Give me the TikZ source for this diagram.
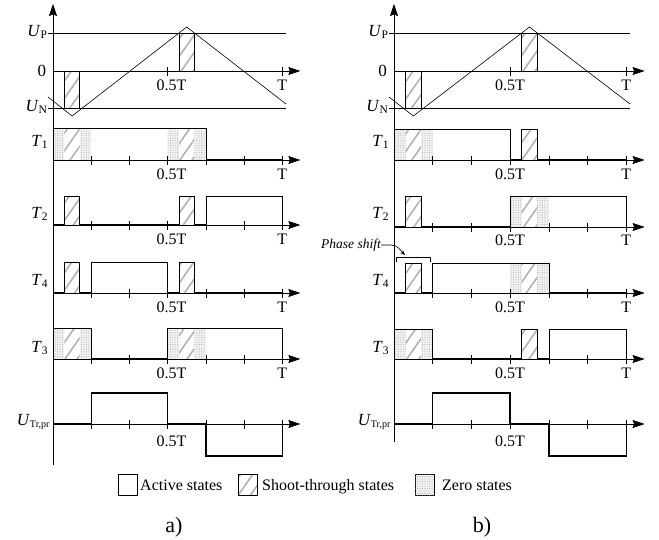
\documentclass[tikz,border=0pt]{standalone}
\usepackage{fontspec}
\setmainfont{Liberation Serif}
\usetikzlibrary{patterns.meta,arrows.meta}
\newcommand\lab[2]{\textit{#1}\raisebox{-0.12em}{\fontsize{11.5}{12}\selectfont #2}}
\tikzset{
  ax/.style={line width=0.6pt,-{Stealth[length=12pt,width=8pt,inset=1.5pt]}},
  thinl/.style={line width=0.6pt},
  sig/.style={line width=0.6pt},
  low/.style={line width=1.3pt},
  wave/.style={line width=1.4pt},
  stfill/.style={pattern={Lines[angle=55,distance=10pt,line width=1.6pt]},pattern color=gray!60},
  zfill/.style={fill=gray!10,postaction={pattern={Dots[radius=0.5pt,distance=2.4pt]},pattern color=gray!70}},
  lbl/.style={font=\fontsize{17}{18}\selectfont,inner sep=1pt,anchor=east},
  tlbl/.style={font=\fontsize{16}{18}\selectfont,inner sep=0pt,anchor=north},
  legtxt/.style={font=\fontsize{16}{18}\selectfont,inner sep=0pt,anchor=base west},
  legbox/.style={draw,line width=0.6pt,minimum width=19pt,minimum height=21pt,inner sep=0pt},
  captxt/.style={font=\fontsize{22}{24}\selectfont,inner sep=0pt,anchor=base}
}
\newcommand\STbox[4]{\fill[stfill] (#1,#3) rectangle (#2,#4);
  \draw[sig] (#1,#3)--(#1,#4)--(#2,#4)--(#2,#3);}
\newcommand\ZSZ[3]{\fill[zfill] (#1,#2) rectangle ({#1+0.6},#3);
  \fill[stfill] ({#1+0.6},#2) rectangle ({#1+1.4},#3);
  \fill[zfill] ({#1+1.4},#2) rectangle ({#1+2},#3);}
\newcommand\SigAxis[4]{\draw[ax] (0,#2) -- (12.95,#2);
  \foreach \k in {2,4,...,12} \draw[thinl] (\k,{#2-4.5}) -- (\k,{#2+4.5});
  \node[tlbl] (#1h) at (#4,{#2+#3}) {0.5T};
  \node[tlbl] (#1t) at (12,{#2+#3}) {T};}
\newcommand\Carrier[2]{%
  \STbox{0.6}{1.4}{108}{71}
  \fill[stfill] (6.6,33) rectangle (7.4,71);
  \draw[sig] (6.6,33)--(6.6,71) (7.4,33)--(7.4,71);
  \draw[thinl] (-0.26,33) -- (12.2,33);
  \draw[thinl] (-0.26,108) -- (12.2,108);
  \draw[ax] (0,71) -- (12.95,71);
  \draw[thinl] (6,66.5) -- (6,75.5) (12,66.5) -- (12,75.5);
  \node[tlbl] (#1ch) at (#2,80) {0.5T};
  \node[tlbl] (#1ct) at (12,80) {T};
  \draw[thinl] (-0.26,97) -- (1,116) -- (7,27) -- (12.2,104);
  \node[lbl] (#1up) at (-0.25,32) {\lab{U}{P}};
  \node[lbl] (#1zero) at (-0.3,71) {0};
  \node[lbl] (#1un) at (-0.25,107) {\lab{U}{N}};
  \node[lbl] (#1t1) at (-0.22,142) {\lab{T}{1}};
  \node[lbl] (#1t2) at (-0.22,214) {\lab{T}{2}};
  \node[lbl] (#1t4) at (-0.22,281) {\lab{T}{4}};
  \node[lbl] (#1t3) at (-0.22,348) {\lab{T}{3}};
  \node[lbl] (#1utr) at (-0.12,422) {\textit{U}\raisebox{-0.1em}{\fontsize{10}{12}\selectfont Tr,pr}};
  \draw[wave] (0,424) -- (2,424) -- (2,393) -- (6,393) -- (6,424) -- (8,424) -- (8,456) -- (12,456) -- (12,424);
}
\begin{document}
\begin{tikzpicture}[x=1pt,y=-1pt]
\useasboundingbox (0,0) rectangle (659,539);
% ================= panel a) =================
\begin{scope}[xshift=53pt,x=19.1pt]
  \ZSZ{0}{160}{128}\ZSZ{6}{160}{128}
  \STbox{0.6}{1.4}{225}{196}\STbox{6.6}{7.4}{225}{196}
  \STbox{0.6}{1.4}{293}{262}\STbox{6.6}{7.4}{293}{262}
  \ZSZ{0}{359}{328}\ZSZ{6}{359}{328}
  \Carrier{a}{6.2}
  \SigAxis{aT1}{160}{9}{6.2}
  \SigAxis{aT2}{225}{9}{6.2}
  \SigAxis{aT4}{293}{9}{6.2}
  \SigAxis{aT3}{359}{9}{6.2}
  \draw[ax] (0,424) -- (12.95,424);
  \foreach \k in {2,4,...,12} \draw[thinl] (\k,419.5) -- (\k,428.5);
  \node[tlbl] (aUh) at (6.2,436) {0.5T};
  \draw[ax] (0,465) -- (0,4);
  \draw[sig] (0,160)--(0,128)--(8,128)--(8,160);
  \draw[low] (8,160)--(12,160);
  \draw[sig] (8,225)--(8,196)--(12,196)--(12,225);
  \draw[low] (0,225)--(0.6,225) (1.4,225)--(6.6,225) (7.4,225)--(8,225);
  \draw[sig] (2,293)--(2,262)--(6,262)--(6,293);
  \draw[low] (0,293)--(0.6,293) (1.4,293)--(2,293) (6,293)--(6.6,293) (7.4,293)--(12,293);
  \draw[sig] (0,359)--(0,328)--(2,328)--(2,359);
  \draw[sig] (6,359)--(6,328)--(12,328)--(12,359);
  \draw[low] (2,359)--(6,359);
\end{scope}
% ================= panel b) =================
\begin{scope}[xshift=394pt,x=19.35pt]
  \ZSZ{0}{160}{129}
  \STbox{6.6}{7.4}{160}{129}
  \STbox{0.6}{1.4}{227}{196}
  \ZSZ{6}{227}{196}
  \STbox{0.6}{1.4}{293}{263}
  \ZSZ{6}{293}{263}
  \ZSZ{0}{359}{329}
  \STbox{6.6}{7.4}{359}{329}
  \Carrier{b}{6}
  \SigAxis{bT1}{160}{9}{6}
  \SigAxis{bT2}{227}{8}{6}
  \SigAxis{bT4}{293}{9}{6}
  \SigAxis{bT3}{359}{9}{6}
  \draw[ax] (0,424) -- (12.95,424);
  \foreach \k in {2,4,...,12} \draw[thinl] (\k,419.5) -- (\k,428.5);
  \node[tlbl] (bUh) at (6,436) {0.5T};
  \draw[ax] (0,442) -- (0,4);
  \draw[sig] (0,160)--(0,129)--(6,129)--(6,160);
  \draw[low] (6,160)--(6.6,160) (7.4,160)--(12,160);
  \draw[sig] (6,227)--(6,196)--(12,196)--(12,227);
  \draw[low] (0,227)--(0.6,227) (1.4,227)--(6,227);
  \draw[sig] (2,293)--(2,263)--(8,263)--(8,293);
  \draw[low] (0,293)--(0.6,293) (1.4,293)--(2,293) (8,293)--(12,293);
  \draw[sig] (0,359)--(0,329)--(2,329)--(2,359);
  \draw[sig] (8,359)--(8,329)--(12,329)--(12,359);
  \draw[low] (2,359)--(6.6,359) (7.4,359)--(8,359);
  \draw[thinl] (0.1,262) -- (0.1,257) -- (1.85,257) -- (1.85,262);
\end{scope}
\node[font=\fontsize{13.5}{15}\selectfont\itshape,inner sep=0pt,anchor=east] (ps) at (381,245) {Phase shift};
\coordinate (psend) at (405,255);
\draw[thinl,-{Stealth[length=5pt,width=4pt]}] (ps.east) -- (391,245) to[out=0,in=135] (psend);
\node[legbox] (lg1) at (127.5,484.5) {};
\node[legtxt] (lt1) at (140,490) {Active states};
\node[legbox,stfill] (lg2) at (247.5,484.5) {};
\node[legtxt] (lt2) at (262,490) {Shoot-through states};
\node[legbox,zfill] (lg3) at (424.5,484.5) {};
\node[legtxt] (lt3) at (442,490) {Zero states};
\node[captxt] (capa) at (174,532) {a)};
\node[captxt] (capb) at (482,532) {b)};
\end{tikzpicture}
\end{document}
